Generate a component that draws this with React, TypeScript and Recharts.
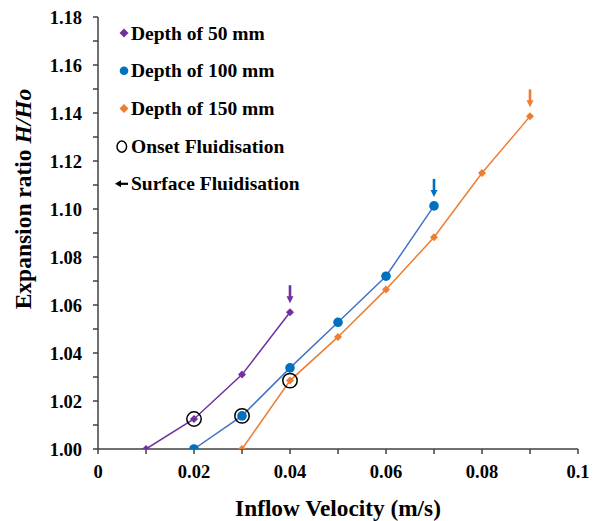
import {
  ComposedChart, Line, Scatter, XAxis, YAxis, Label
} from 'recharts'

const xTicks = [0, 0.01, 0.02, 0.03, 0.04, 0.05, 0.06, 0.07, 0.08, 0.09, 0.1]
const yTicks = [1.0, 1.01, 1.02, 1.03, 1.04, 1.05, 1.06, 1.07, 1.08, 1.09, 1.1, 1.11, 1.12, 1.13, 1.14, 1.15, 1.16, 1.17, 1.18]

const depth50x = [0.01, 0.02, 0.03, 0.04]
const depth50y = [1.0, 1.0125, 1.031, 1.057]
const depth100x = [0.02, 0.03, 0.04, 0.05, 0.06, 0.07]
const depth100y = [1.0, 1.0138, 1.0338, 1.0528, 1.072, 1.1013]
const depth150x = [0.03, 0.04, 0.05, 0.06, 0.07, 0.08, 0.09]
const depth150y = [1.0, 1.0285, 1.0467, 1.0665, 1.0882, 1.115, 1.1386]

const onsetX = [0.02, 0.03, 0.04]
const onsetY = [1.0125, 1.0138, 1.0285]

const zip = (xs: number[], ys: number[]) => xs.map((x, i) => ({ x, y: ys[i] }))

const d50 = zip(depth50x, depth50y)
const d100 = zip(depth100x, depth100y)
const d150 = zip(depth150x, depth150y)
const onset = zip(onsetX, onsetY)

const PURPLE = '#7030A0'
const BLUE = '#0070C0'
const BLUE_LINE = '#4472C4'
const ORANGE = '#ED7D31'
const AXIS = '#404040'
const FONT = '"Liberation Serif", "Times New Roman", serif'

const Diamond = (color: string, r = 4) => (p: any) => {
  const { cx, cy } = p
  if (cx == null || cy == null) return <g />
  return <path d={`M${cx},${cy - r}L${cx + r},${cy}L${cx},${cy + r}L${cx - r},${cy}Z`} fill={color} />
}

const Dot = (color: string) => (p: any) => {
  const { cx, cy } = p
  if (cx == null || cy == null) return <g />
  return <circle cx={cx} cy={cy} r={4.8} fill={color} />
}

const Ring = (p: any) => <circle cx={p.cx} cy={p.cy} r={7.2} fill="none" stroke="#000" strokeWidth={1.5} />

const Arrow = (color: string) => (p: any) => {
  const { cx, cy } = p
  const tail = cy - 27
  const tip = cy - 9
  return (
    <g>
      <line x1={cx} y1={tail} x2={cx} y2={tip - 5} stroke={color} strokeWidth={2.6} />
      <path d={`M${cx - 3.5},${tip - 7}L${cx + 3.5},${tip - 7}L${cx},${tip}Z`} fill={color} />
    </g>
  )
}

const legendRows = [
  { label: 'Depth of 50 mm', kind: 'diamond', color: PURPLE },
  { label: 'Depth of 100 mm', kind: 'dot', color: BLUE },
  { label: 'Depth of 150 mm', kind: 'diamond', color: ORANGE },
  { label: 'Onset Fluidisation', kind: 'ring', color: '#000' },
  { label: 'Surface Fluidisation', kind: 'arrow', color: '#000' },
]

function LegendBox() {
  return (
    <svg width={260} height={190} style={{ position: 'absolute', left: 116, top: 17, overflow: 'visible' }}>
      {legendRows.map((r, i) => {
        const y = 16 + i * 37.7
        let mark
        if (r.kind === 'diamond') mark = <path d={`M8,${y - 4.5}L12.5,${y}L8,${y + 4.5}L3.5,${y}Z`} fill={r.color} />
        else if (r.kind === 'dot') mark = <circle cx={8} cy={y} r={4.3} fill={r.color} />
        else if (r.kind === 'ring') mark = <ellipse cx={5.8} cy={y + 0.5} rx={4.8} ry={5.6} fill="none" stroke="#000" strokeWidth={1.5} />
        else mark = (
          <g>
            <line x1={4} y1={y} x2={12} y2={y} stroke="#000" strokeWidth={2.2} />
            <path d={`M-1,${y}L5,${y - 3.5}L5,${y + 3.5}Z`} fill="#000" />
          </g>
        )
        return (
          <g key={r.label}>
            {mark}
            <text x={15} y={y + 6.5} fontFamily={FONT} fontWeight="bold" fontSize={19.5} fill="#000">{r.label}</text>
          </g>
        )
      })}
    </svg>
  )
}

const fmtX = (v: number, i: number) => (i % 2 === 0 ? String(Number(v.toFixed(2))) : '')
const fmtY = (v: number, i: number) => (i % 2 === 0 ? v.toFixed(2) : '')

const YTitle = () => (
  <text x={31} y={199} transform="rotate(-90, 31, 199)" textAnchor="middle"
    fontFamily={FONT} fontWeight="bold" fontSize={23.5} fill="#000">
    Expansion ratio <tspan fontStyle="italic">H/Ho</tspan>
  </text>
)

const XTitle = () => (
  <text x={338} y={516} textAnchor="middle"
    fontFamily={FONT} fontWeight="bold" fontSize={23.3} fill="#000">
    Inflow Velocity (m/s)
  </text>
)

export default function App() {
  const tick = { fill: '#000', fontSize: 18.5, fontWeight: 'bold', fontFamily: FONT }
  return (
    <div style={{ position: 'absolute', left: 0, top: 0, width: 598, height: 521, background: '#fff' }}>
      <ComposedChart width={598} height={521} margin={{ top: 17, right: 20, left: 0, bottom: 0 }}>
        <XAxis
          dataKey="x" type="number" domain={[0, 0.1]} ticks={xTicks} tickFormatter={fmtX}
          interval={0} height={72} tick={tick} tickSize={5} tickMargin={11}
          stroke={AXIS} strokeWidth={1.5} allowDataOverflow
        >
          <Label content={XTitle} />
        </XAxis>
        <YAxis
          dataKey="y" type="number" domain={[1, 1.18]} ticks={yTicks} tickFormatter={fmtY}
          interval={0} width={98} tick={tick} tickSize={5} tickMargin={11}
          stroke={AXIS} strokeWidth={1.5} allowDataOverflow
        >
          <Label content={YTitle} />
        </YAxis>
        <Line data={d50} dataKey="y" stroke={PURPLE} strokeWidth={1.5} dot={Diamond(PURPLE)} activeDot={false} isAnimationActive={false} legendType="none" />
        <Line data={d100} dataKey="y" stroke={BLUE_LINE} strokeWidth={1.5} dot={Dot(BLUE)} activeDot={false} isAnimationActive={false} legendType="none" />
        <Line data={d150} dataKey="y" stroke={ORANGE} strokeWidth={1.5} dot={Diamond(ORANGE)} activeDot={false} isAnimationActive={false} legendType="none" />
        <Scatter data={onset} dataKey="y" shape={Ring} isAnimationActive={false} legendType="none" />
        <Scatter data={[d50[d50.length - 1]]} dataKey="y" shape={Arrow(PURPLE)} isAnimationActive={false} legendType="none" />
        <Scatter data={[d100[d100.length - 1]]} dataKey="y" shape={Arrow(BLUE)} isAnimationActive={false} legendType="none" />
        <Scatter data={[d150[d150.length - 1]]} dataKey="y" shape={Arrow(ORANGE)} isAnimationActive={false} legendType="none" />
      </ComposedChart>
      <LegendBox />
    </div>
  )
}
